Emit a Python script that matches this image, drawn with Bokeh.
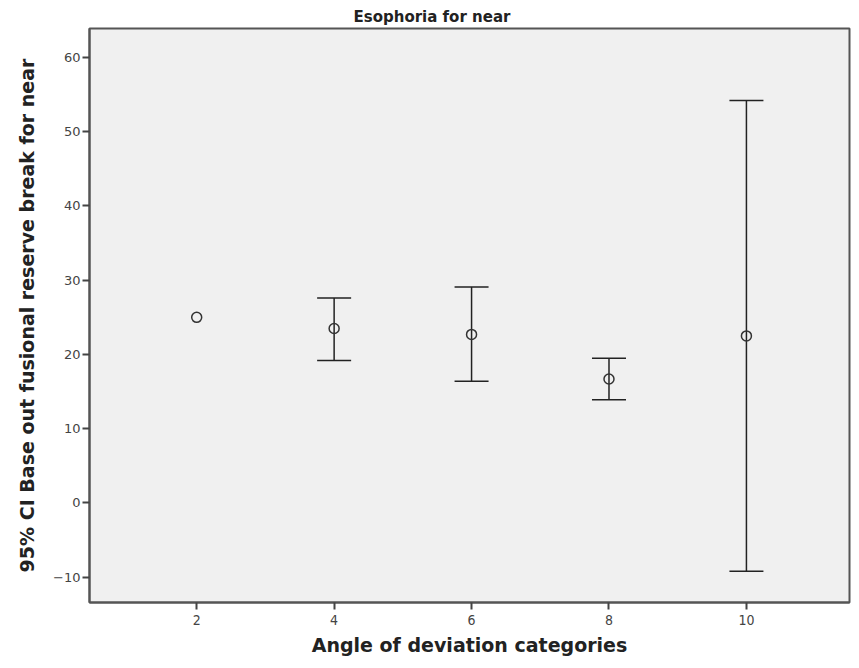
from bokeh.plotting import figure
from bokeh.models import Whisker, ColumnDataSource, TeeHead, FixedTicker, Range1d
from bokeh.embed import file_html
from bokeh.resources import INLINE

# Data
categories = [2, 4, 6, 8, 10]
means = [25.0, 23.5, 22.7, 16.7, 22.5]
ci_cats = [4, 6, 8, 10]
ci_lower = [19.2, 16.4, 13.9, -9.2]
ci_upper = [27.6, 29.1, 19.5, 54.2]
y_ticks = [-10, 0, 10, 20, 30, 40, 50, 60]
x_ticks = [2, 4, 6, 8, 10]

title_text = "Esophoria for near"
x_label = "Angle of deviation categories"
y_label = "95% CI Base out fusional reserve break for near"

COND = "'DejaVu Sans Condensed', 'DejaVu Sans', sans-serif"

p = figure(width=851, height=660, output_backend="svg", toolbar_location=None,
           x_range=Range1d(0.44, 11.5), y_range=Range1d(-13.4, 63.9),
           min_border_left=89, min_border_right=2, min_border_bottom=58, min_border_top=28)

p.title.text = title_text
p.title.align = "left"
p.title.offset = 264
p.title.text_font = "DejaVu Sans"
p.title.text_font_size = "15px"
p.title.text_font_style = "bold"
p.title.text_color = "#222222"
p.title.standoff = 6

p.background_fill_color = "#f0f0f0"
p.border_fill_color = "white"
p.outline_line_color = "#555555"
p.outline_line_width = 2
p.xgrid.visible = False
p.ygrid.visible = False

src = ColumnDataSource(dict(base=ci_cats, lower=ci_lower, upper=ci_upper))
w = Whisker(source=src, base="base", lower="lower", upper="upper", dimension="height",
            line_color="#222222", line_width=1.5,
            upper_head=TeeHead(size=34, line_color="#222222", line_width=1.5),
            lower_head=TeeHead(size=34, line_color="#222222", line_width=1.5))
p.add_layout(w)

p.scatter(categories, means, marker="circle", size=10, fill_color=None,
          line_color="#333333", line_width=1.5)

for ax in (p.xaxis[0], p.yaxis[0]):
    ax.major_tick_out = 7
    ax.major_tick_in = 0
    ax.minor_tick_line_color = None
    ax.axis_line_color = "#555555"
    ax.axis_line_width = 2
    ax.major_tick_line_color = "#444444"
    ax.major_tick_line_width = 2
    ax.major_label_text_color = "#444444"
    ax.axis_label_text_font_style = "bold"
    ax.axis_label_text_color = "#222222"

p.xaxis.ticker = FixedTicker(ticks=x_ticks)
p.yaxis.ticker = FixedTicker(ticks=y_ticks)
p.xaxis.major_label_text_font = COND
p.xaxis.major_label_text_font_size = "14px"
p.yaxis.major_label_text_font = "DejaVu Sans"
p.yaxis.major_label_text_font_size = "13px"
p.xaxis.axis_label = x_label
p.yaxis.axis_label = y_label
p.xaxis.axis_label_text_font = "DejaVu Sans"
p.xaxis.axis_label_text_font_size = "19px"
p.yaxis.axis_label_text_font = "DejaVu Sans"
p.yaxis.axis_label_text_font_size = "19px"
p.xaxis.major_label_standoff = 5
p.yaxis.major_label_standoff = 2
p.xaxis.axis_label_standoff = 6
p.yaxis.axis_label_standoff = 12

open("out.html", "w").write(file_html(p, INLINE))
